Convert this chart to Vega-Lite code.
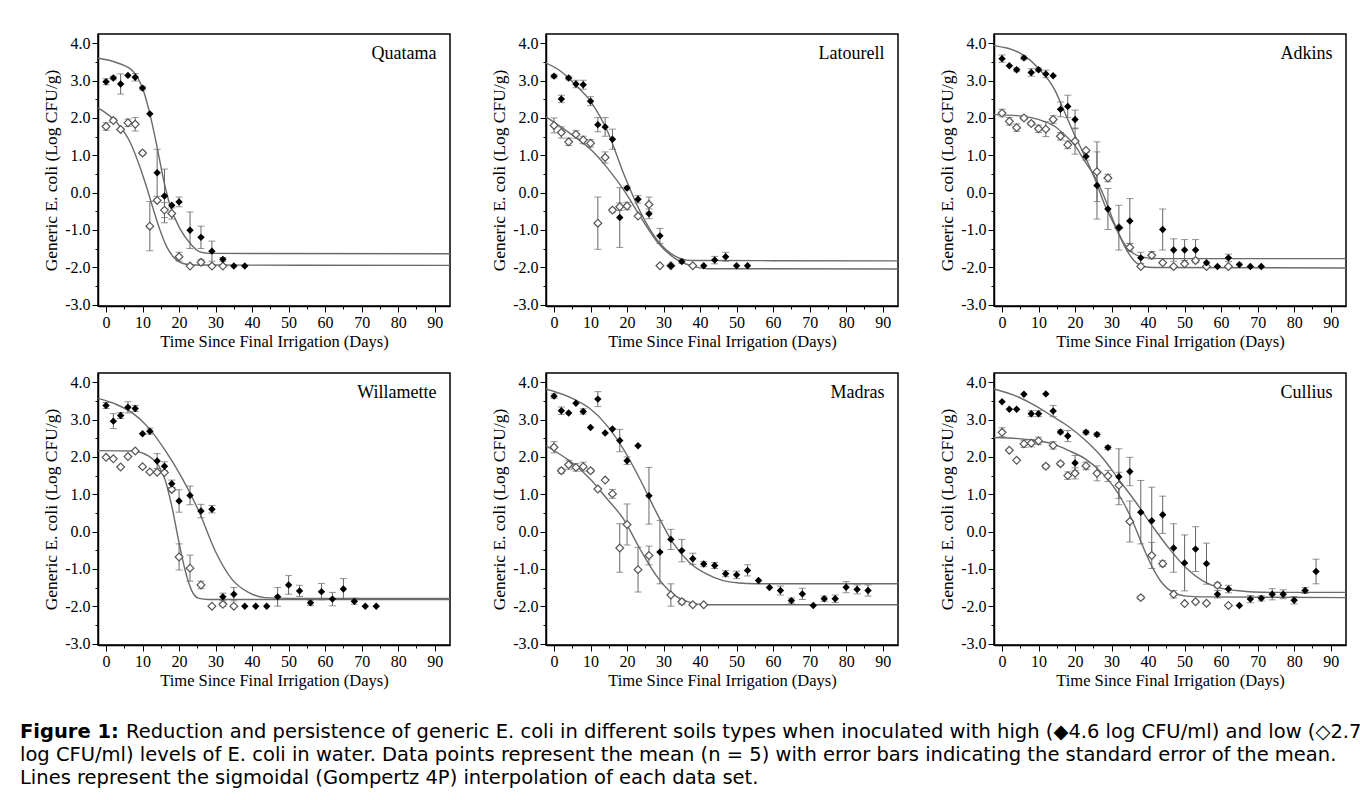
{
"$schema": "https://vega.github.io/schema/vega-lite/v6.json",
"padding": {"left": 20, "top": 33, "right": 0, "bottom": 0},
"background": "white",
"config": {
  "view": {"stroke": "black", "strokeWidth": 1.5},
  "axis": {"labelFont": "Liberation Serif", "titleFont": "Liberation Serif", "labelFontSize": 16, "titleFontSize": 16.5, "titleFontWeight": "normal", "labelColor": "black", "titleColor": "black", "domainColor": "black", "domainWidth": 1.5, "tickColor": "black", "tickWidth": 1, "grid": false, "labelFlush": false, "labelOverlap": false, "labelPadding": 2}
},
"datasets": {"d": [
{"kind":"lab","soil":"Quatama"},{"kind":"lab","soil":"Latourell"},{"kind":"lab","soil":"Adkins"},{"kind":"lab","soil":"Willamette"},{"kind":"lab","soil":"Madras"},{"kind":"lab","soil":"Cullius"},
{"kind":"p","soil":"Quatama","lvl":"H","day":0,"val":2.97,"se":0.08},
{"kind":"p","soil":"Quatama","lvl":"H","day":2,"val":3.07,"se":0.05},
{"kind":"p","soil":"Quatama","lvl":"H","day":4,"val":2.91,"se":0.27},
{"kind":"p","soil":"Quatama","lvl":"H","day":6,"val":3.14},
{"kind":"p","soil":"Quatama","lvl":"H","day":8,"val":3.09,"se":0.1},
{"kind":"p","soil":"Quatama","lvl":"H","day":10,"val":2.8,"se":0.05},
{"kind":"p","soil":"Quatama","lvl":"H","day":12,"val":2.11},
{"kind":"p","soil":"Quatama","lvl":"H","day":14,"val":0.53,"se":0.63},
{"kind":"p","soil":"Quatama","lvl":"H","day":16,"val":-0.09,"se":0.72},
{"kind":"p","soil":"Quatama","lvl":"H","day":18,"val":-0.34},
{"kind":"p","soil":"Quatama","lvl":"H","day":20,"val":-0.25,"se":0.13},
{"kind":"p","soil":"Quatama","lvl":"H","day":23,"val":-1.01,"se":0.49},
{"kind":"p","soil":"Quatama","lvl":"H","day":26,"val":-1.2,"se":0.3},
{"kind":"p","soil":"Quatama","lvl":"H","day":29,"val":-1.57,"se":0.27},
{"kind":"p","soil":"Quatama","lvl":"H","day":32,"val":-1.79,"se":0.05},
{"kind":"p","soil":"Quatama","lvl":"H","day":35,"val":-1.97},
{"kind":"p","soil":"Quatama","lvl":"H","day":38,"val":-1.97},
{"kind":"p","soil":"Quatama","lvl":"L","day":0,"val":1.77,"se":0.1},
{"kind":"p","soil":"Quatama","lvl":"L","day":2,"val":1.93,"se":0.05},
{"kind":"p","soil":"Quatama","lvl":"L","day":4,"val":1.69},
{"kind":"p","soil":"Quatama","lvl":"L","day":6,"val":1.87,"se":0.1},
{"kind":"p","soil":"Quatama","lvl":"L","day":8,"val":1.83,"se":0.18},
{"kind":"p","soil":"Quatama","lvl":"L","day":10,"val":1.06,"se":0.05},
{"kind":"p","soil":"Quatama","lvl":"L","day":12,"val":-0.9,"se":0.66},
{"kind":"p","soil":"Quatama","lvl":"L","day":14,"val":-0.21},
{"kind":"p","soil":"Quatama","lvl":"L","day":16,"val":-0.47,"se":0.2},
{"kind":"p","soil":"Quatama","lvl":"L","day":18,"val":-0.56,"se":0.15},
{"kind":"p","soil":"Quatama","lvl":"L","day":20,"val":-1.72,"se":0.12},
{"kind":"p","soil":"Quatama","lvl":"L","day":23,"val":-1.97},
{"kind":"p","soil":"Quatama","lvl":"L","day":26,"val":-1.87,"se":0.08},
{"kind":"p","soil":"Quatama","lvl":"L","day":29,"val":-1.97},
{"kind":"p","soil":"Quatama","lvl":"L","day":32,"val":-1.97},
{"kind":"f","soil":"Quatama","lvl":"H","day":-2.2,"val":3.6},
{"kind":"f","soil":"Quatama","lvl":"H","day":3,"val":3.48},
{"kind":"f","soil":"Quatama","lvl":"H","day":7.5,"val":3.24},
{"kind":"f","soil":"Quatama","lvl":"H","day":10.2,"val":2.74},
{"kind":"f","soil":"Quatama","lvl":"H","day":12.1,"val":2.07},
{"kind":"f","soil":"Quatama","lvl":"H","day":13.9,"val":1.26},
{"kind":"f","soil":"Quatama","lvl":"H","day":15.7,"val":0.37},
{"kind":"f","soil":"Quatama","lvl":"H","day":17.5,"val":-0.34},
{"kind":"f","soil":"Quatama","lvl":"H","day":20.2,"val":-0.96},
{"kind":"f","soil":"Quatama","lvl":"H","day":23,"val":-1.36},
{"kind":"f","soil":"Quatama","lvl":"H","day":25.7,"val":-1.59},
{"kind":"f","soil":"Quatama","lvl":"H","day":28.4,"val":-1.63},
{"kind":"f","soil":"Quatama","lvl":"H","day":94.5,"val":-1.64},
{"kind":"f","soil":"Quatama","lvl":"L","day":-2.2,"val":2.27},
{"kind":"f","soil":"Quatama","lvl":"L","day":3,"val":1.87},
{"kind":"f","soil":"Quatama","lvl":"L","day":6.6,"val":1.35},
{"kind":"f","soil":"Quatama","lvl":"L","day":9.3,"val":0.68},
{"kind":"f","soil":"Quatama","lvl":"L","day":11.1,"val":0.15},
{"kind":"f","soil":"Quatama","lvl":"L","day":12.9,"val":-0.43},
{"kind":"f","soil":"Quatama","lvl":"L","day":14.8,"val":-1.01},
{"kind":"f","soil":"Quatama","lvl":"L","day":16.6,"val":-1.45},
{"kind":"f","soil":"Quatama","lvl":"L","day":18.4,"val":-1.72},
{"kind":"f","soil":"Quatama","lvl":"L","day":21.1,"val":-1.9},
{"kind":"f","soil":"Quatama","lvl":"L","day":23.8,"val":-1.94},
{"kind":"f","soil":"Quatama","lvl":"L","day":94.5,"val":-1.95},
{"kind":"p","soil":"Latourell","lvl":"H","day":0,"val":3.12,"se":0.05},
{"kind":"p","soil":"Latourell","lvl":"H","day":2,"val":2.51,"se":0.1},
{"kind":"p","soil":"Latourell","lvl":"H","day":4,"val":3.07,"se":0.05},
{"kind":"p","soil":"Latourell","lvl":"H","day":6,"val":2.91,"se":0.1},
{"kind":"p","soil":"Latourell","lvl":"H","day":8,"val":2.89,"se":0.12},
{"kind":"p","soil":"Latourell","lvl":"H","day":10,"val":2.45,"se":0.12},
{"kind":"p","soil":"Latourell","lvl":"H","day":12,"val":1.82,"se":0.19},
{"kind":"p","soil":"Latourell","lvl":"H","day":14,"val":1.76,"se":0.25},
{"kind":"p","soil":"Latourell","lvl":"H","day":16,"val":1.43,"se":0.27},
{"kind":"p","soil":"Latourell","lvl":"H","day":18,"val":-0.67,"se":0.8},
{"kind":"p","soil":"Latourell","lvl":"H","day":20,"val":0.12,"se":0.05},
{"kind":"p","soil":"Latourell","lvl":"H","day":23,"val":-0.18,"se":0.1},
{"kind":"p","soil":"Latourell","lvl":"H","day":26,"val":-0.57,"se":0.13},
{"kind":"p","soil":"Latourell","lvl":"H","day":29,"val":-1.16,"se":0.2},
{"kind":"p","soil":"Latourell","lvl":"H","day":32,"val":-1.96},
{"kind":"p","soil":"Latourell","lvl":"H","day":35,"val":-1.85,"se":0.05},
{"kind":"p","soil":"Latourell","lvl":"H","day":41,"val":-1.96},
{"kind":"p","soil":"Latourell","lvl":"H","day":44,"val":-1.81,"se":0.1},
{"kind":"p","soil":"Latourell","lvl":"H","day":47,"val":-1.72,"se":0.12},
{"kind":"p","soil":"Latourell","lvl":"H","day":50,"val":-1.96},
{"kind":"p","soil":"Latourell","lvl":"H","day":53,"val":-1.96},
{"kind":"p","soil":"Latourell","lvl":"L","day":0,"val":1.8,"se":0.2},
{"kind":"p","soil":"Latourell","lvl":"L","day":2,"val":1.61,"se":0.15},
{"kind":"p","soil":"Latourell","lvl":"L","day":4,"val":1.36,"se":0.1},
{"kind":"p","soil":"Latourell","lvl":"L","day":6,"val":1.56,"se":0.1},
{"kind":"p","soil":"Latourell","lvl":"L","day":8,"val":1.41,"se":0.1},
{"kind":"p","soil":"Latourell","lvl":"L","day":10,"val":1.32,"se":0.1},
{"kind":"p","soil":"Latourell","lvl":"L","day":12,"val":-0.82,"se":0.7},
{"kind":"p","soil":"Latourell","lvl":"L","day":14,"val":0.94,"se":0.15},
{"kind":"p","soil":"Latourell","lvl":"L","day":16,"val":-0.47,"se":0.05},
{"kind":"p","soil":"Latourell","lvl":"L","day":18,"val":-0.38,"se":0.1},
{"kind":"p","soil":"Latourell","lvl":"L","day":20,"val":-0.36,"se":0.1},
{"kind":"p","soil":"Latourell","lvl":"L","day":23,"val":-0.63},
{"kind":"p","soil":"Latourell","lvl":"L","day":26,"val":-0.32,"se":0.2},
{"kind":"p","soil":"Latourell","lvl":"L","day":29,"val":-1.96},
{"kind":"p","soil":"Latourell","lvl":"L","day":32,"val":-1.96},
{"kind":"p","soil":"Latourell","lvl":"L","day":38,"val":-1.96},
{"kind":"f","soil":"Latourell","lvl":"H","day":-2.2,"val":3.47},
{"kind":"f","soil":"Latourell","lvl":"H","day":2,"val":3.24},
{"kind":"f","soil":"Latourell","lvl":"H","day":5.6,"val":2.91},
{"kind":"f","soil":"Latourell","lvl":"H","day":10.2,"val":2.42},
{"kind":"f","soil":"Latourell","lvl":"H","day":14.7,"val":1.63},
{"kind":"f","soil":"Latourell","lvl":"H","day":19.3,"val":0.45},
{"kind":"f","soil":"Latourell","lvl":"H","day":23.8,"val":-0.55},
{"kind":"f","soil":"Latourell","lvl":"H","day":28.4,"val":-1.29},
{"kind":"f","soil":"Latourell","lvl":"H","day":32.9,"val":-1.69},
{"kind":"f","soil":"Latourell","lvl":"H","day":37.5,"val":-1.82},
{"kind":"f","soil":"Latourell","lvl":"H","day":94.5,"val":-1.83},
{"kind":"f","soil":"Latourell","lvl":"L","day":-2.2,"val":2.03},
{"kind":"f","soil":"Latourell","lvl":"L","day":5.6,"val":1.5},
{"kind":"f","soil":"Latourell","lvl":"L","day":10.2,"val":1.14},
{"kind":"f","soil":"Latourell","lvl":"L","day":14.7,"val":0.65},
{"kind":"f","soil":"Latourell","lvl":"L","day":19.3,"val":0.04},
{"kind":"f","soil":"Latourell","lvl":"L","day":23.8,"val":-0.67},
{"kind":"f","soil":"Latourell","lvl":"L","day":28.4,"val":-1.34},
{"kind":"f","soil":"Latourell","lvl":"L","day":32.9,"val":-1.75},
{"kind":"f","soil":"Latourell","lvl":"L","day":37.5,"val":-1.96},
{"kind":"f","soil":"Latourell","lvl":"L","day":42,"val":-2.04},
{"kind":"f","soil":"Latourell","lvl":"L","day":94.5,"val":-2.05},
{"kind":"p","soil":"Adkins","lvl":"H","day":0,"val":3.59,"se":0.1},
{"kind":"p","soil":"Adkins","lvl":"H","day":2,"val":3.4},
{"kind":"p","soil":"Adkins","lvl":"H","day":4,"val":3.29,"se":0.05},
{"kind":"p","soil":"Adkins","lvl":"H","day":6,"val":3.61,"se":0.05},
{"kind":"p","soil":"Adkins","lvl":"H","day":8,"val":3.22,"se":0.1},
{"kind":"p","soil":"Adkins","lvl":"H","day":10,"val":3.29,"se":0.05},
{"kind":"p","soil":"Adkins","lvl":"H","day":12,"val":3.18,"se":0.1},
{"kind":"p","soil":"Adkins","lvl":"H","day":14,"val":3.13},
{"kind":"p","soil":"Adkins","lvl":"H","day":16,"val":2.23,"se":0.2},
{"kind":"p","soil":"Adkins","lvl":"H","day":18,"val":2.31,"se":0.3},
{"kind":"p","soil":"Adkins","lvl":"H","day":20,"val":1.96,"se":0.25},
{"kind":"p","soil":"Adkins","lvl":"H","day":23,"val":0.97,"se":0.1},
{"kind":"p","soil":"Adkins","lvl":"H","day":26,"val":0.19,"se":0.9},
{"kind":"p","soil":"Adkins","lvl":"H","day":29,"val":-0.44,"se":0.55},
{"kind":"p","soil":"Adkins","lvl":"H","day":32,"val":-0.94,"se":0.6},
{"kind":"p","soil":"Adkins","lvl":"H","day":35,"val":-0.76,"se":0.6},
{"kind":"p","soil":"Adkins","lvl":"H","day":38,"val":-1.75,"se":0.15},
{"kind":"p","soil":"Adkins","lvl":"H","day":44,"val":-0.99,"se":0.55},
{"kind":"p","soil":"Adkins","lvl":"H","day":47,"val":-1.54,"se":0.3},
{"kind":"p","soil":"Adkins","lvl":"H","day":50,"val":-1.54,"se":0.28},
{"kind":"p","soil":"Adkins","lvl":"H","day":53,"val":-1.54,"se":0.28},
{"kind":"p","soil":"Adkins","lvl":"H","day":56,"val":-1.88},
{"kind":"p","soil":"Adkins","lvl":"H","day":59,"val":-1.98},
{"kind":"p","soil":"Adkins","lvl":"H","day":62,"val":-1.75,"se":0.1},
{"kind":"p","soil":"Adkins","lvl":"H","day":65,"val":-1.93},
{"kind":"p","soil":"Adkins","lvl":"H","day":68,"val":-1.98},
{"kind":"p","soil":"Adkins","lvl":"H","day":71,"val":-1.98},
{"kind":"p","soil":"Adkins","lvl":"L","day":0,"val":2.13,"se":0.1},
{"kind":"p","soil":"Adkins","lvl":"L","day":2,"val":1.91,"se":0.1},
{"kind":"p","soil":"Adkins","lvl":"L","day":4,"val":1.74,"se":0.1},
{"kind":"p","soil":"Adkins","lvl":"L","day":6,"val":2.0,"se":0.05},
{"kind":"p","soil":"Adkins","lvl":"L","day":8,"val":1.85,"se":0.05},
{"kind":"p","soil":"Adkins","lvl":"L","day":10,"val":1.71,"se":0.1},
{"kind":"p","soil":"Adkins","lvl":"L","day":12,"val":1.7,"se":0.2},
{"kind":"p","soil":"Adkins","lvl":"L","day":14,"val":1.96,"se":0.1},
{"kind":"p","soil":"Adkins","lvl":"L","day":16,"val":1.51,"se":0.1},
{"kind":"p","soil":"Adkins","lvl":"L","day":18,"val":1.28,"se":0.1},
{"kind":"p","soil":"Adkins","lvl":"L","day":20,"val":1.38,"se":0.35},
{"kind":"p","soil":"Adkins","lvl":"L","day":23,"val":1.13},
{"kind":"p","soil":"Adkins","lvl":"L","day":26,"val":0.56,"se":0.8},
{"kind":"p","soil":"Adkins","lvl":"L","day":29,"val":0.39,"se":0.1},
{"kind":"p","soil":"Adkins","lvl":"L","day":32,"val":-0.94},
{"kind":"p","soil":"Adkins","lvl":"L","day":35,"val":-1.47,"se":0.1},
{"kind":"p","soil":"Adkins","lvl":"L","day":38,"val":-1.98},
{"kind":"p","soil":"Adkins","lvl":"L","day":41,"val":-1.68,"se":0.1},
{"kind":"p","soil":"Adkins","lvl":"L","day":44,"val":-1.88},
{"kind":"p","soil":"Adkins","lvl":"L","day":47,"val":-1.98},
{"kind":"p","soil":"Adkins","lvl":"L","day":50,"val":-1.91},
{"kind":"p","soil":"Adkins","lvl":"L","day":53,"val":-1.82,"se":0.06},
{"kind":"p","soil":"Adkins","lvl":"L","day":56,"val":-1.98},
{"kind":"p","soil":"Adkins","lvl":"L","day":62,"val":-1.98},
{"kind":"f","soil":"Adkins","lvl":"H","day":-2.2,"val":3.94},
{"kind":"f","soil":"Adkins","lvl":"H","day":5.4,"val":3.71},
{"kind":"f","soil":"Adkins","lvl":"H","day":9.9,"val":3.34},
{"kind":"f","soil":"Adkins","lvl":"H","day":14.5,"val":2.74},
{"kind":"f","soil":"Adkins","lvl":"H","day":17.2,"val":2.14},
{"kind":"f","soil":"Adkins","lvl":"H","day":19.9,"val":1.54},
{"kind":"f","soil":"Adkins","lvl":"H","day":22.6,"val":0.99},
{"kind":"f","soil":"Adkins","lvl":"H","day":25.3,"val":0.4},
{"kind":"f","soil":"Adkins","lvl":"H","day":28,"val":-0.3},
{"kind":"f","soil":"Adkins","lvl":"H","day":30.7,"val":-0.85},
{"kind":"f","soil":"Adkins","lvl":"H","day":33.4,"val":-1.36},
{"kind":"f","soil":"Adkins","lvl":"H","day":36.1,"val":-1.64},
{"kind":"f","soil":"Adkins","lvl":"H","day":39.7,"val":-1.75},
{"kind":"f","soil":"Adkins","lvl":"H","day":44,"val":-1.77},
{"kind":"f","soil":"Adkins","lvl":"H","day":94.5,"val":-1.77},
{"kind":"f","soil":"Adkins","lvl":"L","day":-2.2,"val":2.09},
{"kind":"f","soil":"Adkins","lvl":"L","day":5.4,"val":2.05},
{"kind":"f","soil":"Adkins","lvl":"L","day":9.9,"val":1.96},
{"kind":"f","soil":"Adkins","lvl":"L","day":14.5,"val":1.77},
{"kind":"f","soil":"Adkins","lvl":"L","day":17.2,"val":1.54},
{"kind":"f","soil":"Adkins","lvl":"L","day":19.9,"val":1.27},
{"kind":"f","soil":"Adkins","lvl":"L","day":22.6,"val":0.85},
{"kind":"f","soil":"Adkins","lvl":"L","day":25.3,"val":0.44},
{"kind":"f","soil":"Adkins","lvl":"L","day":28,"val":-0.12},
{"kind":"f","soil":"Adkins","lvl":"L","day":30.7,"val":-0.81},
{"kind":"f","soil":"Adkins","lvl":"L","day":33.4,"val":-1.41},
{"kind":"f","soil":"Adkins","lvl":"L","day":36.1,"val":-1.82},
{"kind":"f","soil":"Adkins","lvl":"L","day":38.8,"val":-1.98},
{"kind":"f","soil":"Adkins","lvl":"L","day":41.5,"val":-2.01},
{"kind":"f","soil":"Adkins","lvl":"L","day":94.5,"val":-2.02},
{"kind":"p","soil":"Willamette","lvl":"H","day":0,"val":3.38,"se":0.08},
{"kind":"p","soil":"Willamette","lvl":"H","day":2,"val":2.96,"se":0.2},
{"kind":"p","soil":"Willamette","lvl":"H","day":4,"val":3.11,"se":0.08},
{"kind":"p","soil":"Willamette","lvl":"H","day":6,"val":3.33,"se":0.15},
{"kind":"p","soil":"Willamette","lvl":"H","day":8,"val":3.3,"se":0.08},
{"kind":"p","soil":"Willamette","lvl":"H","day":10,"val":2.62},
{"kind":"p","soil":"Willamette","lvl":"H","day":12,"val":2.69,"se":0.08},
{"kind":"p","soil":"Willamette","lvl":"H","day":14,"val":1.89,"se":0.2},
{"kind":"p","soil":"Willamette","lvl":"H","day":16,"val":1.75,"se":0.12},
{"kind":"p","soil":"Willamette","lvl":"H","day":18,"val":1.28,"se":0.1},
{"kind":"p","soil":"Willamette","lvl":"H","day":20,"val":0.82,"se":0.3},
{"kind":"p","soil":"Willamette","lvl":"H","day":23,"val":0.97,"se":0.25},
{"kind":"p","soil":"Willamette","lvl":"H","day":26,"val":0.55,"se":0.18},
{"kind":"p","soil":"Willamette","lvl":"H","day":29,"val":0.6,"se":0.1},
{"kind":"p","soil":"Willamette","lvl":"H","day":32,"val":-1.75,"se":0.1},
{"kind":"p","soil":"Willamette","lvl":"H","day":35,"val":-1.68,"se":0.18},
{"kind":"p","soil":"Willamette","lvl":"H","day":38,"val":-2.0},
{"kind":"p","soil":"Willamette","lvl":"H","day":41,"val":-2.0},
{"kind":"p","soil":"Willamette","lvl":"H","day":44,"val":-2.0},
{"kind":"p","soil":"Willamette","lvl":"H","day":47,"val":-1.75,"se":0.25},
{"kind":"p","soil":"Willamette","lvl":"H","day":50,"val":-1.43,"se":0.25},
{"kind":"p","soil":"Willamette","lvl":"H","day":53,"val":-1.59,"se":0.15},
{"kind":"p","soil":"Willamette","lvl":"H","day":56,"val":-1.91,"se":0.07},
{"kind":"p","soil":"Willamette","lvl":"H","day":59,"val":-1.61,"se":0.22},
{"kind":"p","soil":"Willamette","lvl":"H","day":62,"val":-1.81,"se":0.18},
{"kind":"p","soil":"Willamette","lvl":"H","day":65,"val":-1.54,"se":0.28},
{"kind":"p","soil":"Willamette","lvl":"H","day":68,"val":-1.87,"se":0.08},
{"kind":"p","soil":"Willamette","lvl":"H","day":71,"val":-2.0},
{"kind":"p","soil":"Willamette","lvl":"H","day":74,"val":-2.0},
{"kind":"p","soil":"Willamette","lvl":"L","day":0,"val":1.99},
{"kind":"p","soil":"Willamette","lvl":"L","day":2,"val":1.95},
{"kind":"p","soil":"Willamette","lvl":"L","day":4,"val":1.73},
{"kind":"p","soil":"Willamette","lvl":"L","day":6,"val":2.01},
{"kind":"p","soil":"Willamette","lvl":"L","day":8,"val":2.16},
{"kind":"p","soil":"Willamette","lvl":"L","day":10,"val":1.74},
{"kind":"p","soil":"Willamette","lvl":"L","day":12,"val":1.6},
{"kind":"p","soil":"Willamette","lvl":"L","day":14,"val":1.59},
{"kind":"p","soil":"Willamette","lvl":"L","day":16,"val":1.58},
{"kind":"p","soil":"Willamette","lvl":"L","day":18,"val":1.13,"se":0.05},
{"kind":"p","soil":"Willamette","lvl":"L","day":20,"val":-0.68,"se":0.35},
{"kind":"p","soil":"Willamette","lvl":"L","day":23,"val":-0.98,"se":0.35},
{"kind":"p","soil":"Willamette","lvl":"L","day":26,"val":-1.43,"se":0.1},
{"kind":"p","soil":"Willamette","lvl":"L","day":29,"val":-2.0},
{"kind":"p","soil":"Willamette","lvl":"L","day":32,"val":-1.95,"se":0.05},
{"kind":"p","soil":"Willamette","lvl":"L","day":35,"val":-2.0},
{"kind":"f","soil":"Willamette","lvl":"H","day":-2.2,"val":3.57},
{"kind":"f","soil":"Willamette","lvl":"H","day":2.5,"val":3.42},
{"kind":"f","soil":"Willamette","lvl":"H","day":7.2,"val":3.18},
{"kind":"f","soil":"Willamette","lvl":"H","day":11.7,"val":2.78},
{"kind":"f","soil":"Willamette","lvl":"H","day":16.3,"val":2.16},
{"kind":"f","soil":"Willamette","lvl":"H","day":20.8,"val":1.44},
{"kind":"f","soil":"Willamette","lvl":"H","day":25.4,"val":0.55},
{"kind":"f","soil":"Willamette","lvl":"H","day":29.9,"val":-0.52},
{"kind":"f","soil":"Willamette","lvl":"H","day":34.5,"val":-1.28},
{"kind":"f","soil":"Willamette","lvl":"H","day":39,"val":-1.63},
{"kind":"f","soil":"Willamette","lvl":"H","day":43.5,"val":-1.77},
{"kind":"f","soil":"Willamette","lvl":"H","day":50,"val":-1.79},
{"kind":"f","soil":"Willamette","lvl":"H","day":94.5,"val":-1.79},
{"kind":"f","soil":"Willamette","lvl":"L","day":-2.2,"val":2.17},
{"kind":"f","soil":"Willamette","lvl":"L","day":7.2,"val":2.16},
{"kind":"f","soil":"Willamette","lvl":"L","day":11.7,"val":2.02},
{"kind":"f","soil":"Willamette","lvl":"L","day":14.5,"val":1.75},
{"kind":"f","soil":"Willamette","lvl":"L","day":16.3,"val":1.35},
{"kind":"f","soil":"Willamette","lvl":"L","day":18.1,"val":0.64},
{"kind":"f","soil":"Willamette","lvl":"L","day":19.9,"val":-0.25},
{"kind":"f","soil":"Willamette","lvl":"L","day":21.7,"val":-1.05},
{"kind":"f","soil":"Willamette","lvl":"L","day":23.5,"val":-1.59},
{"kind":"f","soil":"Willamette","lvl":"L","day":25.4,"val":-1.79},
{"kind":"f","soil":"Willamette","lvl":"L","day":28,"val":-1.82},
{"kind":"f","soil":"Willamette","lvl":"L","day":94.5,"val":-1.82},
{"kind":"p","soil":"Madras","lvl":"H","day":0,"val":3.63,"se":0.06},
{"kind":"p","soil":"Madras","lvl":"H","day":2,"val":3.24,"se":0.1},
{"kind":"p","soil":"Madras","lvl":"H","day":4,"val":3.18},
{"kind":"p","soil":"Madras","lvl":"H","day":6,"val":3.44},
{"kind":"p","soil":"Madras","lvl":"H","day":8,"val":3.22,"se":0.07},
{"kind":"p","soil":"Madras","lvl":"H","day":10,"val":2.79},
{"kind":"p","soil":"Madras","lvl":"H","day":12,"val":3.55,"se":0.2},
{"kind":"p","soil":"Madras","lvl":"H","day":14,"val":2.64},
{"kind":"p","soil":"Madras","lvl":"H","day":16,"val":2.75},
{"kind":"p","soil":"Madras","lvl":"H","day":18,"val":2.44,"se":0.3},
{"kind":"p","soil":"Madras","lvl":"H","day":20,"val":1.9,"se":0.1},
{"kind":"p","soil":"Madras","lvl":"H","day":23,"val":2.3},
{"kind":"p","soil":"Madras","lvl":"H","day":26,"val":0.96,"se":0.76},
{"kind":"p","soil":"Madras","lvl":"H","day":29,"val":-0.55,"se":0.85},
{"kind":"p","soil":"Madras","lvl":"H","day":32,"val":-0.21,"se":0.27},
{"kind":"p","soil":"Madras","lvl":"H","day":35,"val":-0.51,"se":0.3},
{"kind":"p","soil":"Madras","lvl":"H","day":38,"val":-0.73,"se":0.15},
{"kind":"p","soil":"Madras","lvl":"H","day":41,"val":-0.87,"se":0.07},
{"kind":"p","soil":"Madras","lvl":"H","day":44,"val":-0.91,"se":0.08},
{"kind":"p","soil":"Madras","lvl":"H","day":47,"val":-1.13,"se":0.08},
{"kind":"p","soil":"Madras","lvl":"H","day":50,"val":-1.16,"se":0.1},
{"kind":"p","soil":"Madras","lvl":"H","day":53,"val":-1.04,"se":0.15},
{"kind":"p","soil":"Madras","lvl":"H","day":56,"val":-1.31},
{"kind":"p","soil":"Madras","lvl":"H","day":59,"val":-1.5},
{"kind":"p","soil":"Madras","lvl":"H","day":62,"val":-1.58,"se":0.12},
{"kind":"p","soil":"Madras","lvl":"H","day":65,"val":-1.85,"se":0.07},
{"kind":"p","soil":"Madras","lvl":"H","day":68,"val":-1.67,"se":0.15},
{"kind":"p","soil":"Madras","lvl":"H","day":71,"val":-1.98},
{"kind":"p","soil":"Madras","lvl":"H","day":74,"val":-1.8,"se":0.07},
{"kind":"p","soil":"Madras","lvl":"H","day":77,"val":-1.8,"se":0.1},
{"kind":"p","soil":"Madras","lvl":"H","day":80,"val":-1.49,"se":0.15},
{"kind":"p","soil":"Madras","lvl":"H","day":83,"val":-1.55,"se":0.12},
{"kind":"p","soil":"Madras","lvl":"H","day":86,"val":-1.58,"se":0.15},
{"kind":"p","soil":"Madras","lvl":"L","day":0,"val":2.26,"se":0.15},
{"kind":"p","soil":"Madras","lvl":"L","day":2,"val":1.63,"se":0.07},
{"kind":"p","soil":"Madras","lvl":"L","day":4,"val":1.79,"se":0.12},
{"kind":"p","soil":"Madras","lvl":"L","day":6,"val":1.72,"se":0.1},
{"kind":"p","soil":"Madras","lvl":"L","day":8,"val":1.74,"se":0.12},
{"kind":"p","soil":"Madras","lvl":"L","day":10,"val":1.63,"se":0.05},
{"kind":"p","soil":"Madras","lvl":"L","day":12,"val":1.14},
{"kind":"p","soil":"Madras","lvl":"L","day":14,"val":1.38},
{"kind":"p","soil":"Madras","lvl":"L","day":16,"val":1.01,"se":0.12},
{"kind":"p","soil":"Madras","lvl":"L","day":18,"val":-0.44,"se":0.65},
{"kind":"p","soil":"Madras","lvl":"L","day":20,"val":0.19,"se":0.55},
{"kind":"p","soil":"Madras","lvl":"L","day":23,"val":-1.02,"se":0.6},
{"kind":"p","soil":"Madras","lvl":"L","day":26,"val":-0.64,"se":0.25},
{"kind":"p","soil":"Madras","lvl":"L","day":32,"val":-1.7,"se":0.3},
{"kind":"p","soil":"Madras","lvl":"L","day":35,"val":-1.88,"se":0.07},
{"kind":"p","soil":"Madras","lvl":"L","day":38,"val":-1.96},
{"kind":"p","soil":"Madras","lvl":"L","day":41,"val":-1.96},
{"kind":"f","soil":"Madras","lvl":"H","day":-2.2,"val":3.82},
{"kind":"f","soil":"Madras","lvl":"H","day":5.4,"val":3.55},
{"kind":"f","soil":"Madras","lvl":"H","day":9.9,"val":3.29},
{"kind":"f","soil":"Madras","lvl":"H","day":14.5,"val":2.84},
{"kind":"f","soil":"Madras","lvl":"H","day":19,"val":2.21},
{"kind":"f","soil":"Madras","lvl":"H","day":23.5,"val":1.41},
{"kind":"f","soil":"Madras","lvl":"H","day":28,"val":0.52},
{"kind":"f","soil":"Madras","lvl":"H","day":32.5,"val":-0.29},
{"kind":"f","soil":"Madras","lvl":"H","day":37,"val":-0.82},
{"kind":"f","soil":"Madras","lvl":"H","day":41.6,"val":-1.13},
{"kind":"f","soil":"Madras","lvl":"H","day":46.1,"val":-1.31},
{"kind":"f","soil":"Madras","lvl":"H","day":50.6,"val":-1.38},
{"kind":"f","soil":"Madras","lvl":"H","day":55,"val":-1.4},
{"kind":"f","soil":"Madras","lvl":"H","day":94.5,"val":-1.4},
{"kind":"f","soil":"Madras","lvl":"L","day":-2.2,"val":2.3},
{"kind":"f","soil":"Madras","lvl":"L","day":5.4,"val":1.81},
{"kind":"f","soil":"Madras","lvl":"L","day":9.9,"val":1.41},
{"kind":"f","soil":"Madras","lvl":"L","day":14.5,"val":0.88},
{"kind":"f","soil":"Madras","lvl":"L","day":19,"val":0.34},
{"kind":"f","soil":"Madras","lvl":"L","day":23.5,"val":-0.46},
{"kind":"f","soil":"Madras","lvl":"L","day":28,"val":-1.18},
{"kind":"f","soil":"Madras","lvl":"L","day":32.5,"val":-1.67},
{"kind":"f","soil":"Madras","lvl":"L","day":37,"val":-1.89},
{"kind":"f","soil":"Madras","lvl":"L","day":41.6,"val":-1.96},
{"kind":"f","soil":"Madras","lvl":"L","day":94.5,"val":-1.96},
{"kind":"p","soil":"Cullius","lvl":"H","day":0,"val":3.48},
{"kind":"p","soil":"Cullius","lvl":"H","day":2,"val":3.28},
{"kind":"p","soil":"Cullius","lvl":"H","day":4,"val":3.28},
{"kind":"p","soil":"Cullius","lvl":"H","day":6,"val":3.68},
{"kind":"p","soil":"Cullius","lvl":"H","day":8,"val":3.16,"se":0.08},
{"kind":"p","soil":"Cullius","lvl":"H","day":10,"val":3.16,"se":0.08},
{"kind":"p","soil":"Cullius","lvl":"H","day":12,"val":3.69},
{"kind":"p","soil":"Cullius","lvl":"H","day":14,"val":3.23,"se":0.15},
{"kind":"p","soil":"Cullius","lvl":"H","day":16,"val":2.67,"se":0.05},
{"kind":"p","soil":"Cullius","lvl":"H","day":18,"val":2.56,"se":0.15},
{"kind":"p","soil":"Cullius","lvl":"H","day":20,"val":1.84,"se":0.2},
{"kind":"p","soil":"Cullius","lvl":"H","day":23,"val":2.66,"se":0.05},
{"kind":"p","soil":"Cullius","lvl":"H","day":26,"val":2.6,"se":0.05},
{"kind":"p","soil":"Cullius","lvl":"H","day":29,"val":2.25,"se":0.05},
{"kind":"p","soil":"Cullius","lvl":"H","day":32,"val":1.47,"se":0.75},
{"kind":"p","soil":"Cullius","lvl":"H","day":35,"val":1.61,"se":0.38},
{"kind":"p","soil":"Cullius","lvl":"H","day":38,"val":0.52,"se":0.85},
{"kind":"p","soil":"Cullius","lvl":"H","day":41,"val":0.29,"se":0.9},
{"kind":"p","soil":"Cullius","lvl":"H","day":44,"val":0.45,"se":0.5},
{"kind":"p","soil":"Cullius","lvl":"H","day":47,"val":-0.44,"se":0.65},
{"kind":"p","soil":"Cullius","lvl":"H","day":50,"val":-0.84,"se":0.75},
{"kind":"p","soil":"Cullius","lvl":"H","day":53,"val":-0.47,"se":0.6},
{"kind":"p","soil":"Cullius","lvl":"H","day":56,"val":-0.86,"se":0.55},
{"kind":"p","soil":"Cullius","lvl":"H","day":59,"val":-1.68,"se":0.1},
{"kind":"p","soil":"Cullius","lvl":"H","day":62,"val":-1.54,"se":0.1},
{"kind":"p","soil":"Cullius","lvl":"H","day":65,"val":-1.98},
{"kind":"p","soil":"Cullius","lvl":"H","day":68,"val":-1.81,"se":0.1},
{"kind":"p","soil":"Cullius","lvl":"H","day":71,"val":-1.79,"se":0.07},
{"kind":"p","soil":"Cullius","lvl":"H","day":74,"val":-1.68,"se":0.15},
{"kind":"p","soil":"Cullius","lvl":"H","day":77,"val":-1.68,"se":0.12},
{"kind":"p","soil":"Cullius","lvl":"H","day":80,"val":-1.84,"se":0.1},
{"kind":"p","soil":"Cullius","lvl":"H","day":83,"val":-1.58,"se":0.08},
{"kind":"p","soil":"Cullius","lvl":"H","day":86,"val":-1.07,"se":0.33},
{"kind":"p","soil":"Cullius","lvl":"L","day":0,"val":2.66,"se":0.12},
{"kind":"p","soil":"Cullius","lvl":"L","day":2,"val":2.18},
{"kind":"p","soil":"Cullius","lvl":"L","day":4,"val":1.91},
{"kind":"p","soil":"Cullius","lvl":"L","day":6,"val":2.35,"se":0.1},
{"kind":"p","soil":"Cullius","lvl":"L","day":8,"val":2.37,"se":0.1},
{"kind":"p","soil":"Cullius","lvl":"L","day":10,"val":2.43,"se":0.1},
{"kind":"p","soil":"Cullius","lvl":"L","day":12,"val":1.75,"se":0.05},
{"kind":"p","soil":"Cullius","lvl":"L","day":14,"val":2.31,"se":0.1},
{"kind":"p","soil":"Cullius","lvl":"L","day":16,"val":1.82,"se":0.05},
{"kind":"p","soil":"Cullius","lvl":"L","day":18,"val":1.5,"se":0.1},
{"kind":"p","soil":"Cullius","lvl":"L","day":20,"val":1.56,"se":0.15},
{"kind":"p","soil":"Cullius","lvl":"L","day":23,"val":1.76,"se":0.1},
{"kind":"p","soil":"Cullius","lvl":"L","day":26,"val":1.56,"se":0.2},
{"kind":"p","soil":"Cullius","lvl":"L","day":29,"val":1.49,"se":0.15},
{"kind":"p","soil":"Cullius","lvl":"L","day":32,"val":1.24,"se":0.35},
{"kind":"p","soil":"Cullius","lvl":"L","day":35,"val":0.27,"se":0.55},
{"kind":"p","soil":"Cullius","lvl":"L","day":38,"val":-1.77,"se":0.05},
{"kind":"p","soil":"Cullius","lvl":"L","day":41,"val":-0.64,"se":0.35},
{"kind":"p","soil":"Cullius","lvl":"L","day":44,"val":-0.86,"se":0.08},
{"kind":"p","soil":"Cullius","lvl":"L","day":47,"val":-1.68,"se":0.1},
{"kind":"p","soil":"Cullius","lvl":"L","day":50,"val":-1.93},
{"kind":"p","soil":"Cullius","lvl":"L","day":53,"val":-1.88},
{"kind":"p","soil":"Cullius","lvl":"L","day":56,"val":-1.92},
{"kind":"p","soil":"Cullius","lvl":"L","day":59,"val":-1.44,"se":0.07},
{"kind":"p","soil":"Cullius","lvl":"L","day":62,"val":-1.98},
{"kind":"f","soil":"Cullius","lvl":"H","day":-2.2,"val":3.82},
{"kind":"f","soil":"Cullius","lvl":"H","day":4.6,"val":3.6},
{"kind":"f","soil":"Cullius","lvl":"H","day":9.2,"val":3.37},
{"kind":"f","soil":"Cullius","lvl":"H","day":13.8,"val":3.09},
{"kind":"f","soil":"Cullius","lvl":"H","day":18.3,"val":2.81},
{"kind":"f","soil":"Cullius","lvl":"H","day":22.9,"val":2.44},
{"kind":"f","soil":"Cullius","lvl":"H","day":27.5,"val":1.98},
{"kind":"f","soil":"Cullius","lvl":"H","day":32.1,"val":1.38},
{"kind":"f","soil":"Cullius","lvl":"H","day":36.7,"val":0.78},
{"kind":"f","soil":"Cullius","lvl":"H","day":41.3,"val":0.13},
{"kind":"f","soil":"Cullius","lvl":"H","day":45.9,"val":-0.47},
{"kind":"f","soil":"Cullius","lvl":"H","day":50.5,"val":-0.98},
{"kind":"f","soil":"Cullius","lvl":"H","day":55,"val":-1.32},
{"kind":"f","soil":"Cullius","lvl":"H","day":59.6,"val":-1.51},
{"kind":"f","soil":"Cullius","lvl":"H","day":64.2,"val":-1.58},
{"kind":"f","soil":"Cullius","lvl":"H","day":68.8,"val":-1.62},
{"kind":"f","soil":"Cullius","lvl":"H","day":75,"val":-1.63},
{"kind":"f","soil":"Cullius","lvl":"H","day":94.5,"val":-1.63},
{"kind":"f","soil":"Cullius","lvl":"L","day":-2.2,"val":2.52},
{"kind":"f","soil":"Cullius","lvl":"L","day":4.6,"val":2.49},
{"kind":"f","soil":"Cullius","lvl":"L","day":9.2,"val":2.44},
{"kind":"f","soil":"Cullius","lvl":"L","day":13.8,"val":2.35},
{"kind":"f","soil":"Cullius","lvl":"L","day":18.3,"val":2.17},
{"kind":"f","soil":"Cullius","lvl":"L","day":22.9,"val":1.94},
{"kind":"f","soil":"Cullius","lvl":"L","day":27.5,"val":1.56},
{"kind":"f","soil":"Cullius","lvl":"L","day":30.3,"val":1.24},
{"kind":"f","soil":"Cullius","lvl":"L","day":33,"val":0.82},
{"kind":"f","soil":"Cullius","lvl":"L","day":35.8,"val":0.27},
{"kind":"f","soil":"Cullius","lvl":"L","day":38.5,"val":-0.38},
{"kind":"f","soil":"Cullius","lvl":"L","day":41.3,"val":-0.98},
{"kind":"f","soil":"Cullius","lvl":"L","day":44,"val":-1.4},
{"kind":"f","soil":"Cullius","lvl":"L","day":46.8,"val":-1.63},
{"kind":"f","soil":"Cullius","lvl":"L","day":50.5,"val":-1.73},
{"kind":"f","soil":"Cullius","lvl":"L","day":55,"val":-1.75},
{"kind":"f","soil":"Cullius","lvl":"L","day":94.5,"val":-1.77}
]},
"vconcat": [
{
  "columns": 3,
  "spacing": {"row": 67, "column": 96},
  "bounds": "flush",
  "concat": [
    {"data": {"name": "d"}, "transform": [{"filter": "datum.soil === 'Quatama'"}], "width": 352, "height": 272,
     "resolve": {"scale": {"x": "independent", "y": "independent"}},
     "layer": [
      {"transform": [{"filter": "datum.kind === 'f'"}], "mark": {"type": "line", "interpolate": "monotone", "color": "#6b6b6b", "strokeWidth": 1.4, "clip": true},
       "encoding": {"x": {"field": "day", "type": "quantitative", "title": "Time Since Final Irrigation (Days)", "scale": {"domain": [-2.2, 94.2], "nice": false, "zero": false}, "axis": {"values": [0,10,20,30,40,50,60,70,80,90], "tickSize": 6, "titlePadding": 3}},
                    "y": {"field": "val", "type": "quantitative", "title": "Generic E. coli (Log CFU/g)", "scale": {"domain": [-3.04, 4.25], "nice": false, "zero": false}, "axis": {"values": [-3,-2,-1,0,1,2,3,4], "labelExpr": "replace(format(datum.value, '.1f'), '−', '-')", "tickSize": 6, "titleFontSize": 17.5, "titlePadding": 4}},
                    "detail": {"field": "lvl"}, "order": {"field": "day", "type": "quantitative"}}},
      {"transform": [{"filter": "datum.kind === 'p' && datum.se > 0"}], "mark": {"type": "errorbar", "color": "#666666", "thickness": 1, "ticks": {"size": 7, "color": "#666666"}},
       "encoding": {"x": {"field": "day", "type": "quantitative", "scale": {"domain": [-2.2, 94.2], "nice": false, "zero": false}, "axis": null},
                    "y": {"field": "val", "type": "quantitative", "scale": {"domain": [-3.04, 4.25], "nice": false, "zero": false}, "axis": null}, "yError": {"field": "se"}}},
      {"transform": [{"filter": "datum.kind === 'p' && datum.lvl === 'L'"}], "mark": {"type": "point", "shape": "diamond", "filled": true, "fill": "white", "stroke": "#555555", "strokeWidth": 1.2, "size": 60, "opacity": 1},
       "encoding": {"x": {"field": "day", "type": "quantitative", "scale": {"domain": [-2.2, 94.2], "nice": false, "zero": false}, "axis": null},
                    "y": {"field": "val", "type": "quantitative", "scale": {"domain": [-3.04, 4.25], "nice": false, "zero": false}, "axis": null}}},
      {"transform": [{"filter": "datum.kind === 'p' && datum.lvl === 'H'"}], "mark": {"type": "point", "shape": "diamond", "filled": true, "color": "black", "size": 55, "opacity": 1},
       "encoding": {"x": {"field": "day", "type": "quantitative", "scale": {"domain": [-2.2, 94.2], "nice": false, "zero": false}, "axis": null},
                    "y": {"field": "val", "type": "quantitative", "scale": {"domain": [-3.04, 4.25], "nice": false, "zero": false}, "axis": null}}},
      {"transform": [{"filter": "datum.kind === 'lab'"}], "mark": {"type": "text", "align": "right", "baseline": "middle", "font": "Liberation Serif", "fontSize": 18, "color": "black"},
       "encoding": {"x": {"datum": 90.5, "type": "quantitative", "scale": {"domain": [-2.2, 94.2], "nice": false, "zero": false}, "axis": {"values": [5,15,25,35,45,55,65,75,85], "labels": false, "domain": false, "tickSize": 3, "title": null, "orient": "bottom"}},
                    "y": {"datum": 3.72, "type": "quantitative", "scale": {"domain": [-3.04, 4.25], "nice": false, "zero": false}, "axis": {"values": [-2.5,-1.5,-0.5,0.5,1.5,2.5,3.5], "labels": false, "domain": false, "tickSize": 3, "title": null, "orient": "left"}},
                    "text": {"field": "soil"}}}
     ]},
    {"data": {"name": "d"}, "transform": [{"filter": "datum.soil === 'Latourell'"}], "width": 352, "height": 272,
     "resolve": {"scale": {"x": "independent", "y": "independent"}},
     "layer": [
      {"transform": [{"filter": "datum.kind === 'f'"}], "mark": {"type": "line", "interpolate": "monotone", "color": "#6b6b6b", "strokeWidth": 1.4, "clip": true},
       "encoding": {"x": {"field": "day", "type": "quantitative", "title": "Time Since Final Irrigation (Days)", "scale": {"domain": [-2.2, 94.2], "nice": false, "zero": false}, "axis": {"values": [0,10,20,30,40,50,60,70,80,90], "tickSize": 6, "titlePadding": 3}},
                    "y": {"field": "val", "type": "quantitative", "title": "Generic E. coli (Log CFU/g)", "scale": {"domain": [-3.04, 4.25], "nice": false, "zero": false}, "axis": {"values": [-3,-2,-1,0,1,2,3,4], "labelExpr": "replace(format(datum.value, '.1f'), '−', '-')", "tickSize": 6, "titleFontSize": 17.5, "titlePadding": 4}},
                    "detail": {"field": "lvl"}, "order": {"field": "day", "type": "quantitative"}}},
      {"transform": [{"filter": "datum.kind === 'p' && datum.se > 0"}], "mark": {"type": "errorbar", "color": "#666666", "thickness": 1, "ticks": {"size": 7, "color": "#666666"}},
       "encoding": {"x": {"field": "day", "type": "quantitative", "scale": {"domain": [-2.2, 94.2], "nice": false, "zero": false}, "axis": null},
                    "y": {"field": "val", "type": "quantitative", "scale": {"domain": [-3.04, 4.25], "nice": false, "zero": false}, "axis": null}, "yError": {"field": "se"}}},
      {"transform": [{"filter": "datum.kind === 'p' && datum.lvl === 'L'"}], "mark": {"type": "point", "shape": "diamond", "filled": true, "fill": "white", "stroke": "#555555", "strokeWidth": 1.2, "size": 60, "opacity": 1},
       "encoding": {"x": {"field": "day", "type": "quantitative", "scale": {"domain": [-2.2, 94.2], "nice": false, "zero": false}, "axis": null},
                    "y": {"field": "val", "type": "quantitative", "scale": {"domain": [-3.04, 4.25], "nice": false, "zero": false}, "axis": null}}},
      {"transform": [{"filter": "datum.kind === 'p' && datum.lvl === 'H'"}], "mark": {"type": "point", "shape": "diamond", "filled": true, "color": "black", "size": 55, "opacity": 1},
       "encoding": {"x": {"field": "day", "type": "quantitative", "scale": {"domain": [-2.2, 94.2], "nice": false, "zero": false}, "axis": null},
                    "y": {"field": "val", "type": "quantitative", "scale": {"domain": [-3.04, 4.25], "nice": false, "zero": false}, "axis": null}}},
      {"transform": [{"filter": "datum.kind === 'lab'"}], "mark": {"type": "text", "align": "right", "baseline": "middle", "font": "Liberation Serif", "fontSize": 18, "color": "black"},
       "encoding": {"x": {"datum": 90.5, "type": "quantitative", "scale": {"domain": [-2.2, 94.2], "nice": false, "zero": false}, "axis": {"values": [5,15,25,35,45,55,65,75,85], "labels": false, "domain": false, "tickSize": 3, "title": null, "orient": "bottom"}},
                    "y": {"datum": 3.72, "type": "quantitative", "scale": {"domain": [-3.04, 4.25], "nice": false, "zero": false}, "axis": {"values": [-2.5,-1.5,-0.5,0.5,1.5,2.5,3.5], "labels": false, "domain": false, "tickSize": 3, "title": null, "orient": "left"}},
                    "text": {"field": "soil"}}}
     ]},
    {"data": {"name": "d"}, "transform": [{"filter": "datum.soil === 'Adkins'"}], "width": 352, "height": 272,
     "resolve": {"scale": {"x": "independent", "y": "independent"}},
     "layer": [
      {"transform": [{"filter": "datum.kind === 'f'"}], "mark": {"type": "line", "interpolate": "monotone", "color": "#6b6b6b", "strokeWidth": 1.4, "clip": true},
       "encoding": {"x": {"field": "day", "type": "quantitative", "title": "Time Since Final Irrigation (Days)", "scale": {"domain": [-2.2, 94.2], "nice": false, "zero": false}, "axis": {"values": [0,10,20,30,40,50,60,70,80,90], "tickSize": 6, "titlePadding": 3}},
                    "y": {"field": "val", "type": "quantitative", "title": "Generic E. coli (Log CFU/g)", "scale": {"domain": [-3.04, 4.25], "nice": false, "zero": false}, "axis": {"values": [-3,-2,-1,0,1,2,3,4], "labelExpr": "replace(format(datum.value, '.1f'), '−', '-')", "tickSize": 6, "titleFontSize": 17.5, "titlePadding": 4}},
                    "detail": {"field": "lvl"}, "order": {"field": "day", "type": "quantitative"}}},
      {"transform": [{"filter": "datum.kind === 'p' && datum.se > 0"}], "mark": {"type": "errorbar", "color": "#666666", "thickness": 1, "ticks": {"size": 7, "color": "#666666"}},
       "encoding": {"x": {"field": "day", "type": "quantitative", "scale": {"domain": [-2.2, 94.2], "nice": false, "zero": false}, "axis": null},
                    "y": {"field": "val", "type": "quantitative", "scale": {"domain": [-3.04, 4.25], "nice": false, "zero": false}, "axis": null}, "yError": {"field": "se"}}},
      {"transform": [{"filter": "datum.kind === 'p' && datum.lvl === 'L'"}], "mark": {"type": "point", "shape": "diamond", "filled": true, "fill": "white", "stroke": "#555555", "strokeWidth": 1.2, "size": 60, "opacity": 1},
       "encoding": {"x": {"field": "day", "type": "quantitative", "scale": {"domain": [-2.2, 94.2], "nice": false, "zero": false}, "axis": null},
                    "y": {"field": "val", "type": "quantitative", "scale": {"domain": [-3.04, 4.25], "nice": false, "zero": false}, "axis": null}}},
      {"transform": [{"filter": "datum.kind === 'p' && datum.lvl === 'H'"}], "mark": {"type": "point", "shape": "diamond", "filled": true, "color": "black", "size": 55, "opacity": 1},
       "encoding": {"x": {"field": "day", "type": "quantitative", "scale": {"domain": [-2.2, 94.2], "nice": false, "zero": false}, "axis": null},
                    "y": {"field": "val", "type": "quantitative", "scale": {"domain": [-3.04, 4.25], "nice": false, "zero": false}, "axis": null}}},
      {"transform": [{"filter": "datum.kind === 'lab'"}], "mark": {"type": "text", "align": "right", "baseline": "middle", "font": "Liberation Serif", "fontSize": 18, "color": "black"},
       "encoding": {"x": {"datum": 90.5, "type": "quantitative", "scale": {"domain": [-2.2, 94.2], "nice": false, "zero": false}, "axis": {"values": [5,15,25,35,45,55,65,75,85], "labels": false, "domain": false, "tickSize": 3, "title": null, "orient": "bottom"}},
                    "y": {"datum": 3.72, "type": "quantitative", "scale": {"domain": [-3.04, 4.25], "nice": false, "zero": false}, "axis": {"values": [-2.5,-1.5,-0.5,0.5,1.5,2.5,3.5], "labels": false, "domain": false, "tickSize": 3, "title": null, "orient": "left"}},
                    "text": {"field": "soil"}}}
     ]},
    {"data": {"name": "d"}, "transform": [{"filter": "datum.soil === 'Willamette'"}], "width": 352, "height": 272,
     "resolve": {"scale": {"x": "independent", "y": "independent"}},
     "layer": [
      {"transform": [{"filter": "datum.kind === 'f'"}], "mark": {"type": "line", "interpolate": "monotone", "color": "#6b6b6b", "strokeWidth": 1.4, "clip": true},
       "encoding": {"x": {"field": "day", "type": "quantitative", "title": "Time Since Final Irrigation (Days)", "scale": {"domain": [-2.2, 94.2], "nice": false, "zero": false}, "axis": {"values": [0,10,20,30,40,50,60,70,80,90], "tickSize": 6, "titlePadding": 3}},
                    "y": {"field": "val", "type": "quantitative", "title": "Generic E. coli (Log CFU/g)", "scale": {"domain": [-3.04, 4.25], "nice": false, "zero": false}, "axis": {"values": [-3,-2,-1,0,1,2,3,4], "labelExpr": "replace(format(datum.value, '.1f'), '−', '-')", "tickSize": 6, "titleFontSize": 17.5, "titlePadding": 4}},
                    "detail": {"field": "lvl"}, "order": {"field": "day", "type": "quantitative"}}},
      {"transform": [{"filter": "datum.kind === 'p' && datum.se > 0"}], "mark": {"type": "errorbar", "color": "#666666", "thickness": 1, "ticks": {"size": 7, "color": "#666666"}},
       "encoding": {"x": {"field": "day", "type": "quantitative", "scale": {"domain": [-2.2, 94.2], "nice": false, "zero": false}, "axis": null},
                    "y": {"field": "val", "type": "quantitative", "scale": {"domain": [-3.04, 4.25], "nice": false, "zero": false}, "axis": null}, "yError": {"field": "se"}}},
      {"transform": [{"filter": "datum.kind === 'p' && datum.lvl === 'L'"}], "mark": {"type": "point", "shape": "diamond", "filled": true, "fill": "white", "stroke": "#555555", "strokeWidth": 1.2, "size": 60, "opacity": 1},
       "encoding": {"x": {"field": "day", "type": "quantitative", "scale": {"domain": [-2.2, 94.2], "nice": false, "zero": false}, "axis": null},
                    "y": {"field": "val", "type": "quantitative", "scale": {"domain": [-3.04, 4.25], "nice": false, "zero": false}, "axis": null}}},
      {"transform": [{"filter": "datum.kind === 'p' && datum.lvl === 'H'"}], "mark": {"type": "point", "shape": "diamond", "filled": true, "color": "black", "size": 55, "opacity": 1},
       "encoding": {"x": {"field": "day", "type": "quantitative", "scale": {"domain": [-2.2, 94.2], "nice": false, "zero": false}, "axis": null},
                    "y": {"field": "val", "type": "quantitative", "scale": {"domain": [-3.04, 4.25], "nice": false, "zero": false}, "axis": null}}},
      {"transform": [{"filter": "datum.kind === 'lab'"}], "mark": {"type": "text", "align": "right", "baseline": "middle", "font": "Liberation Serif", "fontSize": 18, "color": "black"},
       "encoding": {"x": {"datum": 90.5, "type": "quantitative", "scale": {"domain": [-2.2, 94.2], "nice": false, "zero": false}, "axis": {"values": [5,15,25,35,45,55,65,75,85], "labels": false, "domain": false, "tickSize": 3, "title": null, "orient": "bottom"}},
                    "y": {"datum": 3.72, "type": "quantitative", "scale": {"domain": [-3.04, 4.25], "nice": false, "zero": false}, "axis": {"values": [-2.5,-1.5,-0.5,0.5,1.5,2.5,3.5], "labels": false, "domain": false, "tickSize": 3, "title": null, "orient": "left"}},
                    "text": {"field": "soil"}}}
     ]},
    {"data": {"name": "d"}, "transform": [{"filter": "datum.soil === 'Madras'"}], "width": 352, "height": 272,
     "resolve": {"scale": {"x": "independent", "y": "independent"}},
     "layer": [
      {"transform": [{"filter": "datum.kind === 'f'"}], "mark": {"type": "line", "interpolate": "monotone", "color": "#6b6b6b", "strokeWidth": 1.4, "clip": true},
       "encoding": {"x": {"field": "day", "type": "quantitative", "title": "Time Since Final Irrigation (Days)", "scale": {"domain": [-2.2, 94.2], "nice": false, "zero": false}, "axis": {"values": [0,10,20,30,40,50,60,70,80,90], "tickSize": 6, "titlePadding": 3}},
                    "y": {"field": "val", "type": "quantitative", "title": "Generic E. coli (Log CFU/g)", "scale": {"domain": [-3.04, 4.25], "nice": false, "zero": false}, "axis": {"values": [-3,-2,-1,0,1,2,3,4], "labelExpr": "replace(format(datum.value, '.1f'), '−', '-')", "tickSize": 6, "titleFontSize": 17.5, "titlePadding": 4}},
                    "detail": {"field": "lvl"}, "order": {"field": "day", "type": "quantitative"}}},
      {"transform": [{"filter": "datum.kind === 'p' && datum.se > 0"}], "mark": {"type": "errorbar", "color": "#666666", "thickness": 1, "ticks": {"size": 7, "color": "#666666"}},
       "encoding": {"x": {"field": "day", "type": "quantitative", "scale": {"domain": [-2.2, 94.2], "nice": false, "zero": false}, "axis": null},
                    "y": {"field": "val", "type": "quantitative", "scale": {"domain": [-3.04, 4.25], "nice": false, "zero": false}, "axis": null}, "yError": {"field": "se"}}},
      {"transform": [{"filter": "datum.kind === 'p' && datum.lvl === 'L'"}], "mark": {"type": "point", "shape": "diamond", "filled": true, "fill": "white", "stroke": "#555555", "strokeWidth": 1.2, "size": 60, "opacity": 1},
       "encoding": {"x": {"field": "day", "type": "quantitative", "scale": {"domain": [-2.2, 94.2], "nice": false, "zero": false}, "axis": null},
                    "y": {"field": "val", "type": "quantitative", "scale": {"domain": [-3.04, 4.25], "nice": false, "zero": false}, "axis": null}}},
      {"transform": [{"filter": "datum.kind === 'p' && datum.lvl === 'H'"}], "mark": {"type": "point", "shape": "diamond", "filled": true, "color": "black", "size": 55, "opacity": 1},
       "encoding": {"x": {"field": "day", "type": "quantitative", "scale": {"domain": [-2.2, 94.2], "nice": false, "zero": false}, "axis": null},
                    "y": {"field": "val", "type": "quantitative", "scale": {"domain": [-3.04, 4.25], "nice": false, "zero": false}, "axis": null}}},
      {"transform": [{"filter": "datum.kind === 'lab'"}], "mark": {"type": "text", "align": "right", "baseline": "middle", "font": "Liberation Serif", "fontSize": 18, "color": "black"},
       "encoding": {"x": {"datum": 90.5, "type": "quantitative", "scale": {"domain": [-2.2, 94.2], "nice": false, "zero": false}, "axis": {"values": [5,15,25,35,45,55,65,75,85], "labels": false, "domain": false, "tickSize": 3, "title": null, "orient": "bottom"}},
                    "y": {"datum": 3.72, "type": "quantitative", "scale": {"domain": [-3.04, 4.25], "nice": false, "zero": false}, "axis": {"values": [-2.5,-1.5,-0.5,0.5,1.5,2.5,3.5], "labels": false, "domain": false, "tickSize": 3, "title": null, "orient": "left"}},
                    "text": {"field": "soil"}}}
     ]},
    {"data": {"name": "d"}, "transform": [{"filter": "datum.soil === 'Cullius'"}], "width": 352, "height": 272,
     "resolve": {"scale": {"x": "independent", "y": "independent"}},
     "layer": [
      {"transform": [{"filter": "datum.kind === 'f'"}], "mark": {"type": "line", "interpolate": "monotone", "color": "#6b6b6b", "strokeWidth": 1.4, "clip": true},
       "encoding": {"x": {"field": "day", "type": "quantitative", "title": "Time Since Final Irrigation (Days)", "scale": {"domain": [-2.2, 94.2], "nice": false, "zero": false}, "axis": {"values": [0,10,20,30,40,50,60,70,80,90], "tickSize": 6, "titlePadding": 3}},
                    "y": {"field": "val", "type": "quantitative", "title": "Generic E. coli (Log CFU/g)", "scale": {"domain": [-3.04, 4.25], "nice": false, "zero": false}, "axis": {"values": [-3,-2,-1,0,1,2,3,4], "labelExpr": "replace(format(datum.value, '.1f'), '−', '-')", "tickSize": 6, "titleFontSize": 17.5, "titlePadding": 4}},
                    "detail": {"field": "lvl"}, "order": {"field": "day", "type": "quantitative"}}},
      {"transform": [{"filter": "datum.kind === 'p' && datum.se > 0"}], "mark": {"type": "errorbar", "color": "#666666", "thickness": 1, "ticks": {"size": 7, "color": "#666666"}},
       "encoding": {"x": {"field": "day", "type": "quantitative", "scale": {"domain": [-2.2, 94.2], "nice": false, "zero": false}, "axis": null},
                    "y": {"field": "val", "type": "quantitative", "scale": {"domain": [-3.04, 4.25], "nice": false, "zero": false}, "axis": null}, "yError": {"field": "se"}}},
      {"transform": [{"filter": "datum.kind === 'p' && datum.lvl === 'L'"}], "mark": {"type": "point", "shape": "diamond", "filled": true, "fill": "white", "stroke": "#555555", "strokeWidth": 1.2, "size": 60, "opacity": 1},
       "encoding": {"x": {"field": "day", "type": "quantitative", "scale": {"domain": [-2.2, 94.2], "nice": false, "zero": false}, "axis": null},
                    "y": {"field": "val", "type": "quantitative", "scale": {"domain": [-3.04, 4.25], "nice": false, "zero": false}, "axis": null}}},
      {"transform": [{"filter": "datum.kind === 'p' && datum.lvl === 'H'"}], "mark": {"type": "point", "shape": "diamond", "filled": true, "color": "black", "size": 55, "opacity": 1},
       "encoding": {"x": {"field": "day", "type": "quantitative", "scale": {"domain": [-2.2, 94.2], "nice": false, "zero": false}, "axis": null},
                    "y": {"field": "val", "type": "quantitative", "scale": {"domain": [-3.04, 4.25], "nice": false, "zero": false}, "axis": null}}},
      {"transform": [{"filter": "datum.kind === 'lab'"}], "mark": {"type": "text", "align": "right", "baseline": "middle", "font": "Liberation Serif", "fontSize": 18, "color": "black"},
       "encoding": {"x": {"datum": 90.5, "type": "quantitative", "scale": {"domain": [-2.2, 94.2], "nice": false, "zero": false}, "axis": {"values": [5,15,25,35,45,55,65,75,85], "labels": false, "domain": false, "tickSize": 3, "title": null, "orient": "bottom"}},
                    "y": {"datum": 3.72, "type": "quantitative", "scale": {"domain": [-3.04, 4.25], "nice": false, "zero": false}, "axis": {"values": [-2.5,-1.5,-0.5,0.5,1.5,2.5,3.5], "labels": false, "domain": false, "tickSize": 3, "title": null, "orient": "left"}},
                    "text": {"field": "soil"}}}
     ]}
  ]
},
{
  "data": {"values": [
    {"line": 1, "part": "b", "text": "Figure 1:"},
    {"line": 1, "part": "r", "text": "Reduction and persistence of generic E. coli in different soils types when inoculated with high (◆4.6 log CFU/ml) and low (◇2.7"},
    {"line": 2, "part": "r0", "text": "log CFU/ml) levels of E. coli in water.  Data points represent the mean (n = 5) with error bars indicating the standard error of the mean."},
    {"line": 3, "part": "r0", "text": "Lines represent the sigmoidal (Gompertz 4P) interpolation of each data set."}
  ]},
  "width": 1247,
  "height": 68,
  "view": {"stroke": null},
  "encoding": {
    "y": {"field": "line", "type": "ordinal", "axis": null, "scale": {"paddingInner": 0, "paddingOuter": 0}},
    "x": {"datum": 0, "type": "quantitative", "axis": null, "scale": {"domain": [0, 1]}},
    "text": {"field": "text"}
  },
  "layer": [
    {"transform": [{"filter": "datum.part === 'b'"}],
     "mark": {"type": "text", "align": "left", "baseline": "middle", "font": "DejaVu Sans", "fontSize": 19.5, "fontWeight": "bold", "color": "black", "dx": -78}},
    {"transform": [{"filter": "datum.part === 'r'"}],
     "mark": {"type": "text", "align": "left", "baseline": "middle", "font": "DejaVu Sans", "fontSize": 19.5, "color": "black", "dx": 28}},
    {"transform": [{"filter": "datum.part === 'r0'"}],
     "mark": {"type": "text", "align": "left", "baseline": "middle", "font": "DejaVu Sans", "fontSize": 19.5, "color": "black", "dx": -78}}
  ]
}
],
"spacing": 31
}
